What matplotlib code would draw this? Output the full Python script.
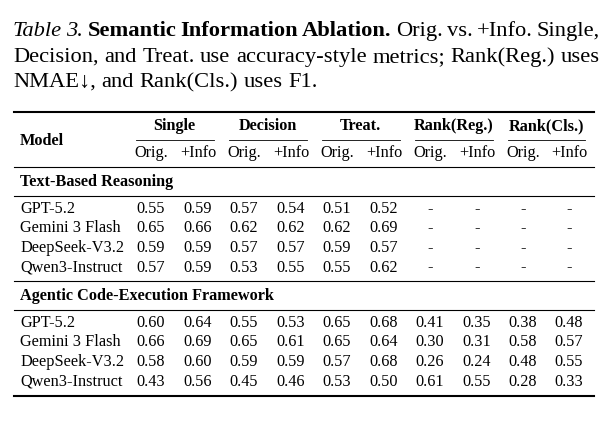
import matplotlib
matplotlib.use("Agg")
import matplotlib.pyplot as plt

# caption pieces
caption_lines = [
    [("Table 3.", "italic", "normal"),
     ("Semantic Information Ablation.", "normal", "bold"),
     ("Orig. vs. +Info. Single,", "normal", "normal")],
    [("Decision, and Treat. use accuracy-style metrics; Rank(Reg.) uses", "normal", "normal")],
    [("NMAE\u2193, and Rank(Cls.) uses F1.", "normal", "normal")],
]

groups = ["Single", "Decision", "Treat.", "Rank(Reg.)", "Rank(Cls.)"]
subcols = ["Orig.", "+Info"]

section_names = ["Text-Based Reasoning", "Agentic Code-Execution Framework"]
models = ["GPT-5.2", "Gemini 3 Flash", "DeepSeek-V3.2", "Qwen3-Instruct"]

text_based = [
    ["0.55", "0.59", "0.57", "0.54", "0.51", "0.52", "-", "-", "-", "-"],
    ["0.65", "0.66", "0.62", "0.62", "0.62", "0.69", "-", "-", "-", "-"],
    ["0.59", "0.59", "0.57", "0.57", "0.59", "0.57", "-", "-", "-", "-"],
    ["0.57", "0.59", "0.53", "0.55", "0.55", "0.62", "-", "-", "-", "-"],
]
agentic = [
    ["0.60", "0.64", "0.55", "0.53", "0.65", "0.68", "0.41", "0.35", "0.38", "0.48"],
    ["0.66", "0.69", "0.65", "0.61", "0.65", "0.64", "0.30", "0.31", "0.58", "0.57"],
    ["0.58", "0.60", "0.59", "0.59", "0.57", "0.68", "0.26", "0.24", "0.48", "0.55"],
    ["0.43", "0.56", "0.45", "0.46", "0.53", "0.50", "0.61", "0.55", "0.28", "0.33"],
]
sections = [text_based, agentic]

FONT = ["Liberation Serif", "DejaVu Serif"]
CAP_SIZE = 16.2
TAB_SIZE = 11.7

fig = plt.figure(figsize=(6.10, 4.22), dpi=100)
ax = fig.add_axes([0, 0, 1, 1])
ax.set_xlim(0, 610)
ax.set_ylim(422, 0)
ax.axis("off")
renderer = fig.canvas.get_renderer()


def width_of(s, style, weight, size):
    t = ax.text(0, 0, s, fontfamily=FONT, fontstyle=style, fontweight=weight, fontsize=size)
    bb = t.get_window_extent(renderer)
    t.remove()
    return bb.width


# caption, lines 1-2 justified
left, right = 13, 600
cap_base = [36, 62, 87]
for i, line in enumerate(caption_lines):
    words = []
    for s, style, weight in line:
        for w in s.split(" "):
            words.append((w, style, weight))
    widths = [width_of(w, st, wt, CAP_SIZE) for w, st, wt in words]
    space = width_of("a a", "normal", "normal", CAP_SIZE) - width_of("aa", "normal", "normal", CAP_SIZE)
    if i < len(caption_lines) - 1:
        space = (right - left - sum(widths)) / (len(words) - 1)
    x = left
    for (w, st, wt), wd in zip(words, widths):
        ax.text(x, cap_base[i], w, fontfamily=FONT, fontstyle=st, fontweight=wt,
                fontsize=CAP_SIZE, va="baseline", ha="left")
        x += wd + space

# table geometry
col_x = [151, 198, 244, 291, 337, 384, 430, 477, 523, 569]
rule_l, rule_r = 14, 594
model_x = 20

ax.plot([rule_l, rule_r], [112, 112], color="black", lw=1.5)
ax.text(model_x, 145, "Model", fontfamily=FONT, fontweight="bold", fontsize=TAB_SIZE, va="baseline")
for g, name in enumerate(groups):
    xa, xb = col_x[2 * g], col_x[2 * g + 1]
    ax.text((xa + xb) / 2, 130, name, fontfamily=FONT, fontweight="bold",
            fontsize=TAB_SIZE, ha="center", va="baseline")
    ax.plot([xa - 15, xb + 16], [139.5, 139.5], color="black", lw=0.6)
    for k, sc in enumerate(subcols):
        ax.text(col_x[2 * g + k], 157, sc, fontfamily=FONT, fontsize=TAB_SIZE,
                ha="center", va="baseline")
ax.plot([rule_l, rule_r], [167, 167], color="black", lw=0.8)

sec_top = [167, 281]
for s, (sname, rows) in enumerate(zip(section_names, sections)):
    y0 = sec_top[s]
    ax.text(model_x, y0 + 19, sname, fontfamily=FONT, fontweight="bold",
            fontsize=TAB_SIZE, va="baseline")
    ax.plot([rule_l, rule_r], [y0 + 29, y0 + 29], color="black", lw=0.8)
    for r, (m, vals) in enumerate(zip(models, rows)):
        yb = y0 + 46 + r * 19.5
        ax.text(model_x, yb, m, fontfamily=FONT, fontsize=TAB_SIZE, va="baseline")
        for c, v in enumerate(vals):
            ax.text(col_x[c], yb, v, fontfamily=FONT, fontsize=TAB_SIZE,
                    ha="center", va="baseline")
    if s == 0:
        ax.plot([rule_l, rule_r], [281, 281], color="black", lw=0.8)

ax.plot([rule_l, rule_r], [396, 396], color="black", lw=1.5)

fig.savefig("out.png", dpi=100)
